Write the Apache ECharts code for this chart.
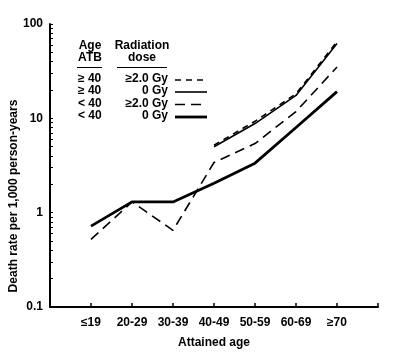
<!DOCTYPE html>
<html>
<head>
<meta charset="utf-8">
<script src="https://cdn.jsdelivr.net/npm/echarts@6/dist/echarts.min.js"></script>
<style>html,body{margin:0;padding:0;background:#fff}#c{width:400px;height:360px}</style>
</head>
<body>
<div id="c"></div>
<script>
var categories = ['≤19', '20-29', '30-39', '40-49', '50-59', '60-69', '≥70'];
var ge40_2Gy = [null, null, null, 5.2, 9.3, 18.2, 65];
var ge40_0Gy = [null, null, null, 5.0, 8.8, 17.5, 62];
var lt40_2Gy = [0.52, 1.3, 0.65, 3.4, 5.4, 11.8, 35];
var lt40_0Gy = [0.72, 1.3, 1.3, 2.05, 3.35, 8.0, 19.2];
var yTicks = [0.1, 1, 10, 100];
var legendAge = ['≥ 40', '≥ 40', '< 40', '< 40'];
var legendDose = ['≥2.0 Gy', '0 Gy', '≥2.0 Gy', '0 Gy'];

var FONT = '"Liberation Sans", Arial, sans-serif';
function pts(arr) {
  var out = [];
  arr.forEach(function (v, i) { if (v != null) out.push([i + 1, v]); });
  return out;
}
var styles = [
  { width: 1.6, type: [6, 5] },
  { width: 1.6, type: 'solid' },
  { width: 1.6, type: [10, 6] },
  { width: 2.8, type: 'solid' }
];
var seriesData = [ge40_2Gy, ge40_0Gy, lt40_2Gy, lt40_0Gy];
var series = seriesData.map(function (d, i) {
  return {
    type: 'line', data: pts(d), symbol: 'none', silent: true,
    lineStyle: { color: '#000', width: styles[i].width, type: styles[i].type },
    z: 10 - i
  };
});

var graphics = [];
function txt(x, y, s, align) {
  graphics.push({ type: 'text', x: x, y: y, style: { text: s, font: 'bold 12px ' + FONT, fill: '#000', align: align || 'left', verticalAlign: 'middle' } });
}
txt(90, 46, 'Age', 'center');
txt(90, 58, 'ATB', 'center');
txt(142, 46, 'Radiation', 'center');
txt(142, 58, 'dose', 'center');
graphics.push({ type: 'line', shape: { x1: 77, y1: 67.5, x2: 102, y2: 67.5 }, style: { stroke: '#000', lineWidth: 1 } });
graphics.push({ type: 'line', shape: { x1: 117, y1: 67.5, x2: 167, y2: 67.5 }, style: { stroke: '#000', lineWidth: 1 } });
var rowY = [79, 91, 103.5, 116];
for (var r = 0; r < 4; r++) {
  txt(78, rowY[r], legendAge[r], 'left');
  txt(168, rowY[r], legendDose[r], 'right');
  graphics.push({ type: 'line', shape: { x1: 175, y1: rowY[r] + 1, x2: 207, y2: rowY[r] + 1 },
    style: { stroke: '#000', lineWidth: styles[r].width, lineDash: styles[r].type === 'solid' ? null : styles[r].type } });
}
graphics.push({ type: 'text', x: 14, y: 196, rotation: Math.PI / 2,
  style: { text: 'Death rate per 1,000 person-years', font: 'bold 12px ' + FONT, fill: '#000', align: 'center', verticalAlign: 'middle' } });

var chart = echarts.init(document.getElementById('c'), null, { renderer: 'canvas' });
chart.setOption({
  animation: false,
  backgroundColor: '#fff',
  grid: { left: 50, right: 22, top: 24, bottom: 53 },
  xAxis: {
    type: 'value', min: 0, max: 8, interval: 1,
    name: 'Attained age', nameLocation: 'middle', nameGap: 30,
    nameTextStyle: { fontFamily: FONT, fontWeight: 'bold', fontSize: 12, color: '#000' },
    axisLine: { lineStyle: { color: '#000', width: 2 } },
    axisTick: { inside: true, length: 4, lineStyle: { color: '#000', width: 1.5 } },
    axisLabel: { margin: 10, fontFamily: FONT, fontWeight: 'bold', fontSize: 12, color: '#000',
      showMinLabel: true, showMaxLabel: true,
      formatter: function (v) { return categories[v - 1] || ''; } },
    splitLine: { show: false }
  },
  yAxis: {
    type: 'log', logBase: 10, min: yTicks[0], max: yTicks[yTicks.length - 1],
    axisLine: { show: true, lineStyle: { color: '#000', width: 2 } },
    axisTick: { show: true, inside: true, length: 3, lineStyle: { color: '#000', width: 1 } },
    minorTick: { show: true, splitNumber: 9, length: 3, lineStyle: { color: '#000', width: 1 } },
    axisLabel: { margin: 7, fontFamily: FONT, fontWeight: 'bold', fontSize: 12, color: '#000',
      formatter: function (v) { return String(+v.toPrecision(3)); } },
    splitLine: { show: false }
  },
  graphic: graphics,
  series: series
});
</script>
</body>
</html>
